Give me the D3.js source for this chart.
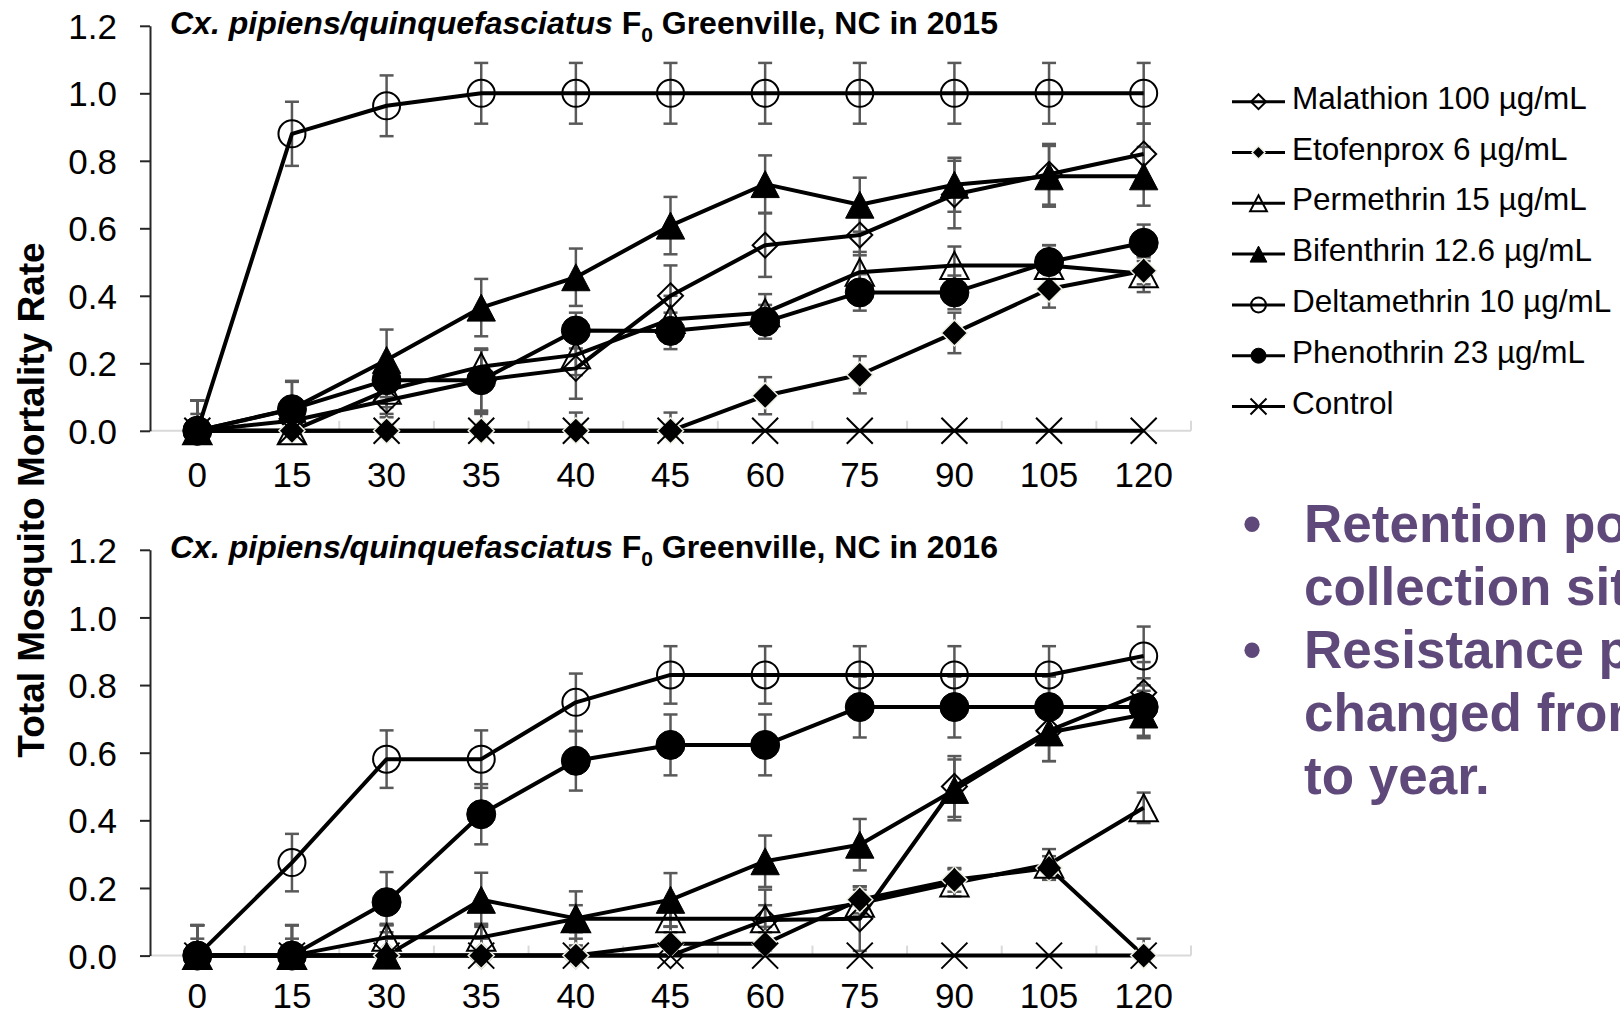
<!DOCTYPE html>
<html>
<head>
<meta charset="utf-8">
<script src="https://cdn.jsdelivr.net/npm/d3@7"></script>
<style>
body { margin: 0; background: #fff; }
svg { display: block; font-family: "Liberation Sans", Arial, sans-serif; }
</style>
</head>
<body>
<div id="chart"></div>
<script>
// exposure time (min)
var minutes = ["0", "15", "30", "35", "40", "45", "60", "75", "90", "105", "120"];
var yTicks = [0, 0.2, 0.4, 0.6, 0.8, 1.0, 1.2];

var seriesKeys = ["malathion", "etofenprox", "permethrin", "bifenthrin", "deltamethrin", "phenothrin", "control"];
var seriesNames = ["Malathion 100 µg/mL", "Etofenprox 6 µg/mL", "Permethrin 15 µg/mL", "Bifenthrin 12.6 µg/mL",
    "Deltamethrin 10 µg/mL", "Phenothrin 23 µg/mL", "Control"];

// 2015 mortality
var malathion2015    = [0, 0.03, 0.09, 0.15, 0.185, 0.40, 0.55, 0.58, 0.70, 0.76, 0.82];
var etofenprox2015   = [0, 0, 0, 0, 0, 0, 0.104, 0.166, 0.29, 0.42, 0.474];
var permethrin2015   = [0, 0, 0.12, 0.19, 0.225, 0.33, 0.35, 0.47, 0.49, 0.49, 0.465];
var bifenthrin2015   = [0, 0.065, 0.21, 0.365, 0.455, 0.608, 0.731, 0.67, 0.729, 0.754, 0.754];
var deltamethrin2015 = [0, 0.88, 0.963, 1, 1, 1, 1, 1, 1, 1, 1];
var phenothrin2015   = [0, 0.064, 0.15, 0.15, 0.297, 0.296, 0.323, 0.41, 0.41, 0.5, 0.557];
var control2015      = [0, 0, 0, 0, 0, 0, 0, 0, 0, 0, 0];

var malathionErr2015    = [0.09, 0.05, 0.05, 0.09, 0.09, 0.09, 0.094, 0.06, 0.1, 0.09, 0.09];
var etofenproxErr2015   = [0.05, 0.05, 0.05, 0.05, 0.054, 0.054, 0.055, 0.055, 0.06, 0.055, 0.04];
var permethrinErr2015   = [0.09, 0.05, 0.05, 0.05, 0.06, 0.07, 0.055, 0.06, 0.056, 0.06, 0.054];
var bifenthrinErr2015   = [0.09, 0.08, 0.09, 0.085, 0.085, 0.085, 0.085, 0.08, 0.08, 0.09, 0.087];
var deltamethrinErr2015 = [0.09, 0.095, 0.09, 0.09, 0.09, 0.09, 0.09, 0.09, 0.09, 0.09, 0.09];
var phenothrinErr2015   = [0.09, 0.084, 0.05, 0.094, 0.053, 0.054, 0.05, 0.054, 0.05, 0.05, 0.054];
var controlErr2015      = [0, 0, 0, 0, 0, 0, 0, 0, 0, 0, 0];

// 2016 mortality
var malathion2016    = [0, 0, 0, 0, 0, 0, 0.105, 0.109, 0.5, 0.665, 0.778];
var etofenprox2016   = [0, 0, 0, 0, 0, 0.035, 0.035, 0.165, 0.224, 0.259, 0];
var permethrin2016   = [0, 0, 0.054, 0.054, 0.109, 0.109, 0.109, 0.155, 0.215, 0.27, 0.437];
var bifenthrin2016   = [0, 0, 0, 0.165, 0.11, 0.165, 0.279, 0.328, 0.49, 0.66, 0.713];
var deltamethrin2016 = [0, 0.275, 0.581, 0.581, 0.749, 0.83, 0.83, 0.83, 0.83, 0.83, 0.886];
var phenothrin2016   = [0, 0, 0.158, 0.418, 0.576, 0.623, 0.623, 0.735, 0.735, 0.735, 0.735];
var control2016      = [0, 0, 0, 0, 0, 0, 0, 0, 0, 0, 0];

var malathionErr2016    = [0.09, 0.09, 0.09, 0.09, 0.09, 0.086, 0.09, 0.095, 0.09, 0.09, 0.09];
var etofenproxErr2016   = [0.05, 0.05, 0.05, 0.05, 0.05, 0.05, 0.05, 0.04, 0.035, 0.035, 0.05];
var permethrinErr2016   = [0.09, 0.09, 0.04, 0.04, 0.04, 0.04, 0.04, 0.04, 0.04, 0.045, 0.045];
var bifenthrinErr2016   = [0.09, 0.09, 0.09, 0.08, 0.08, 0.079, 0.076, 0.076, 0.09, 0.085, 0.07];
var deltamethrinErr2016 = [0.09, 0.085, 0.085, 0.085, 0.085, 0.085, 0.085, 0.085, 0.085, 0.085, 0.087];
var phenothrinErr2016   = [0.09, 0.09, 0.089, 0.089, 0.088, 0.09, 0.09, 0.09, 0.09, 0.09, 0.085];
var controlErr2016      = [0, 0, 0, 0, 0, 0, 0, 0, 0, 0, 0];

var bulletLines = [
    {text: "Retention pond at", bullet: true},
    {text: "collection site.", bullet: false},
    {text: "Resistance profiles", bullet: true},
    {text: "changed from year", bullet: false},
    {text: "to year.", bullet: false}
];

var W = 1620, H = 1016;
var svg = d3.select("#chart").append("svg")
    .attr("width", W)
    .attr("height", H);

var markerStyle = {
    malathion:    {shape: "diamond",  fill: false, size: 12.5, legend: 7.5},
    etofenprox:   {shape: "diamond",  fill: true,  size: 13,   legend: 6.5},
    permethrin:   {shape: "triangle", fill: false, size: 13.5, legend: 8},
    bifenthrin:   {shape: "triangle", fill: true,  size: 13.5, legend: 8},
    deltamethrin: {shape: "circle",   fill: false, size: 13.5, legend: 7.5},
    phenothrin:   {shape: "circle",   fill: true,  size: 14.5, legend: 7.5},
    control:      {shape: "x",        fill: false, size: 13,   legend: 8}
};

function symbolPath(shape, s) {
    if (shape == "diamond") return "M0," + (-s) + "L" + s + ",0L0," + s + "L" + (-s) + ",0Z";
    if (shape == "triangle") return "M0," + (-s) + "L" + (s * 1.05) + "," + s + "L" + (-s * 1.05) + "," + s + "Z";
    if (shape == "x") return "M" + (-s) + "," + (-s) + "L" + s + "," + s + "M" + (-s) + "," + s + "L" + s + "," + (-s);
    return "M" + (-s) + ",0A" + s + "," + s + " 0 1,0 " + s + ",0A" + s + "," + s + " 0 1,0 " + (-s) + ",0Z";
}

function drawSymbol(sel, key, s) {
    var st = markerStyle[key];
    sel.append("path")
        .attr("d", symbolPath(st.shape, s))
        .attr("fill", st.fill ? "#000" : "none")
        .attr("stroke", st.fill ? (st.shape == "diamond" ? "#f0efe4" : "#000") : "#000")
        .attr("stroke-width", st.fill ? (st.shape == "diamond" ? 1.5 : 1) : 2);
}

var x = d3.scaleBand()
    .domain(minutes)
    .range([150, 1191]);

var panels = [
    {
        year: "2015", y0: 430.8, y1: 25.8, pad: 31,
        values: {malathion: malathion2015, etofenprox: etofenprox2015, permethrin: permethrin2015,
            bifenthrin: bifenthrin2015, deltamethrin: deltamethrin2015, phenothrin: phenothrin2015, control: control2015},
        errs: {malathion: malathionErr2015, etofenprox: etofenproxErr2015, permethrin: permethrinErr2015,
            bifenthrin: bifenthrinErr2015, deltamethrin: deltamethrinErr2015, phenothrin: phenothrinErr2015, control: controlErr2015}
    },
    {
        year: "2016", y0: 955.6, y1: 549.8, pad: 28,
        values: {malathion: malathion2016, etofenprox: etofenprox2016, permethrin: permethrin2016,
            bifenthrin: bifenthrin2016, deltamethrin: deltamethrin2016, phenothrin: phenothrin2016, control: control2016},
        errs: {malathion: malathionErr2016, etofenprox: etofenproxErr2016, permethrin: permethrinErr2016,
            bifenthrin: bifenthrinErr2016, deltamethrin: deltamethrinErr2016, phenothrin: phenothrinErr2016, control: controlErr2016}
    }
];

panels.forEach(function(p) {
    var y = d3.scaleLinear().domain([0, 1.2]).range([p.y0, p.y1]);
    var g = svg.append("g");

    // light category axis with inside ticks between categories
    g.append("line")
        .attr("x1", x.range()[0]).attr("x2", x.range()[1])
        .attr("y1", y(0)).attr("y2", y(0))
        .attr("stroke", "#d9d9d9").attr("stroke-width", 2);

    g.selectAll(".xtick")
        .data(d3.range(1, minutes.length + 1))
        .enter()
        .append("line")
        .attr("x1", (i) => x.range()[0] + i * x.step())
        .attr("x2", (i) => x.range()[0] + i * x.step())
        .attr("y1", y(0)).attr("y2", y(0) - 10)
        .attr("stroke", "#d9d9d9").attr("stroke-width", 2);

    var yAxis = g.append("g")
        .attr("transform", "translate(" + x.range()[0] + ",0)")
        .call(d3.axisLeft(y).tickValues(yTicks).tickFormat(d3.format(".1f")).tickSize(10).tickSizeOuter(0).tickPadding(23));
    yAxis.select(".domain").attr("stroke", "#262626").attr("stroke-width", 2);
    yAxis.selectAll(".tick line").attr("stroke", "#262626").attr("stroke-width", 2);
    yAxis.selectAll("text").style("font-size", "35px").attr("fill", "#000").attr("dy", "0.36em");

    var xAxis = g.append("g")
        .attr("transform", "translate(0," + y(0) + ")")
        .call(d3.axisBottom(x).tickSize(0).tickPadding(p.pad));
    xAxis.select(".domain").remove();
    xAxis.selectAll("text").style("font-size", "35px").attr("fill", "#000");

    // title
    var t = g.append("text")
        .attr("x", 170)
        .attr("y", p.y1 + 8.5)
        .style("font-size", "32px")
        .style("font-weight", "bold");
    t.append("tspan").style("font-style", "italic").text("Cx. pipiens/quinquefasciatus");
    t.append("tspan").text(" F");
    t.append("tspan").attr("dy", 8).style("font-size", "21px").text("0");
    t.append("tspan").attr("dy", -8).text(" Greenville, NC in " + p.year);

    // error bars
    seriesKeys.forEach(function(k) {
        var eb = g.append("g").attr("stroke", "#595959").attr("stroke-width", 2.5);
        p.values[k].forEach(function(v, i) {
            var e = p.errs[k][i];
            if (!e) return;
            var cx = x(minutes[i]) + x.bandwidth() / 2;
            var hi = v + e, lo = Math.max(0, v - e);
            eb.append("line").attr("x1", cx).attr("x2", cx).attr("y1", y(lo)).attr("y2", y(hi));
            eb.append("line").attr("x1", cx - 7).attr("x2", cx + 7).attr("y1", y(hi)).attr("y2", y(hi));
            if (v - e > 0) {
                eb.append("line").attr("x1", cx - 7).attr("x2", cx + 7).attr("y1", y(lo)).attr("y2", y(lo));
            }
        });
    });

    var line = d3.line()
        .x((d, i) => x(minutes[i]) + x.bandwidth() / 2)
        .y((d) => y(d));

    seriesKeys.forEach(function(k) {
        g.append("path")
            .attr("d", line(p.values[k]))
            .attr("fill", "none")
            .attr("stroke", "#000")
            .attr("stroke-width", 4)
            .attr("stroke-linejoin", "round");
    });

    seriesKeys.forEach(function(k) {
        var m = g.selectAll(".m-" + k)
            .data(p.values[k])
            .enter()
            .append("g")
            .attr("transform", (d, i) => "translate(" + (x(minutes[i]) + x.bandwidth() / 2) + "," + y(d) + ")");
        m.each(function() { drawSymbol(d3.select(this), k, markerStyle[k].size); });
    });
});

// legend
var legend = svg.append("g").attr("transform", "translate(1232,101.7)");
var item = legend.selectAll("g")
    .data(seriesKeys)
    .enter()
    .append("g")
    .attr("transform", (d, i) => "translate(0," + (i * 50.8) + ")");
item.append("line")
    .attr("x1", 0).attr("x2", 53)
    .attr("stroke", "#000").attr("stroke-width", 3);
item.each(function(k) {
    var s = d3.select(this).append("g").attr("transform", "translate(26.5,0)");
    drawSymbol(s, k, markerStyle[k].legend);
});
item.append("text")
    .attr("x", 60)
    .attr("y", 7)
    .style("font-size", "31.5px")
    .text((d, i) => seriesNames[i]);

// y axis title
svg.append("text")
    .attr("transform", "translate(31,500) rotate(-90)")
    .attr("text-anchor", "middle")
    .attr("dominant-baseline", "central")
    .style("font-size", "37px")
    .style("font-weight", "bold")
    .text("Total Mosquito Mortality Rate");

// bullet notes (run off the right edge as on the slide)
var notes = svg.append("g")
    .style("font-size", "53px")
    .style("font-weight", "bold")
    .attr("fill", "#5f497a");
notes.selectAll("text.line")
    .data(bulletLines)
    .enter()
    .append("text")
    .attr("class", "line")
    .attr("x", 1304)
    .attr("y", (d, i) => 541.7 + i * 63)
    .text((d) => d.text);
notes.selectAll("text.bullet")
    .data(bulletLines.filter((d) => d.bullet))
    .enter()
    .append("text")
    .attr("class", "bullet")
    .attr("x", 1252)
    .attr("y", (d) => 541.7 + bulletLines.indexOf(d) * 63)
    .attr("text-anchor", "middle")
    .text("•");
</script>
</body>
</html>
